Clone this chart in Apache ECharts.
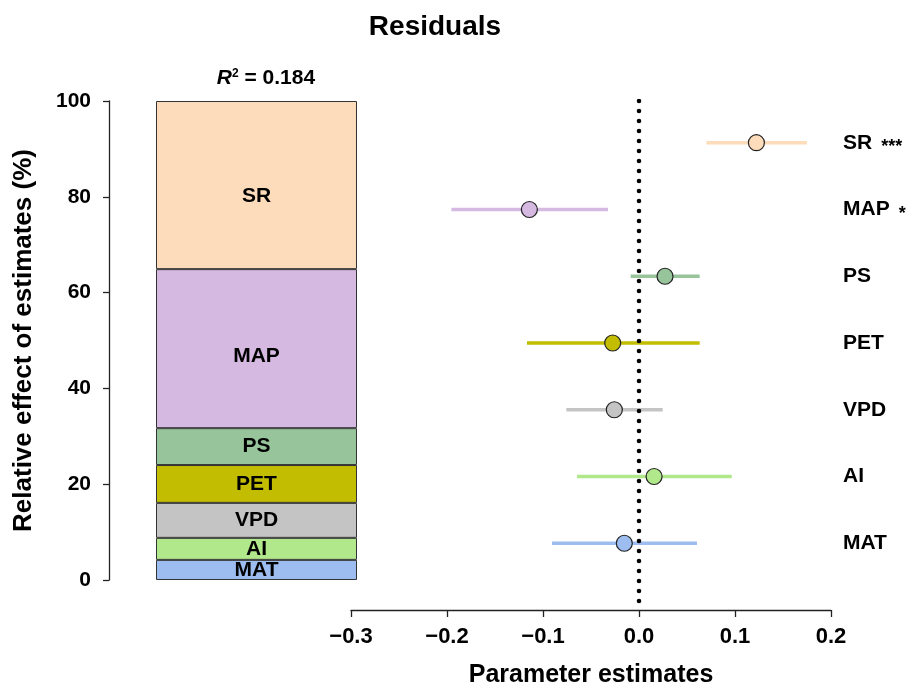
<!DOCTYPE html>
<html>
<head>
<meta charset="utf-8">
<script src="https://cdn.jsdelivr.net/npm/echarts@6/dist/echarts.min.js"></script>
<style>
html, body { margin: 0; padding: 0; background: #fff; }
#chart { width: 906px; height: 699px; }
</style>
</head>
<body>
<div id="chart"></div>
<script>
// variables, bottom to top
var categories = ['MAT', 'AI', 'VPD', 'PET', 'PS', 'MAP', 'SR'];
// relative effect of estimates (%)
var shares = [4.2, 4.6, 7.3, 7.9, 7.7, 33.2, 35.1];
// parameter estimates and their intervals
var estimates = [-0.0153, 0.0157, -0.0257, -0.0274, 0.0271, -0.1142, 0.1223];
var ciLow = [-0.0906, -0.0646, -0.0757, -0.1167, -0.0087, -0.1954, 0.0702];
var ciHigh = [0.0604, 0.0966, 0.0247, 0.0632, 0.0632, -0.0323, 0.1750];
var stars = ['', '', '', '', '', '*', '***'];
var colors = ['#9dbdf0', '#b1e88c', '#c4c4c4', '#c2bd00', '#97c49b', '#d5b9e1', '#fddcbb'];
var r2Text = '0.184';

var FONT = 'Liberation Sans, Arial, sans-serif';

var chart = echarts.init(document.getElementById('chart'));

// stacked bar, one series per variable
var barSeries = categories.map(function(name, i) {
    var off = 0;
    if (name == 'SR') off = 11;
    if (name == 'MAP') off = 8;
    return {
        name: name,
        type: 'bar',
        stack: 'total',
        xAxisIndex: 0,
        yAxisIndex: 0,
        barWidth: 201,
        data: [shares[i]],
        itemStyle: { color: colors[i], borderColor: '#333', borderWidth: 1 },
        label: {
            show: true,
            position: 'inside',
            offset: [0, off],
            formatter: name,
            color: '#000',
            fontFamily: FONT,
            fontWeight: 'bold',
            fontSize: 21
        }
    };
});

var ciData = categories.map(function(name, i) {
    return [ciLow[i], ciHigh[i], i + 1];
});

var pointData = categories.map(function(name, i) {
    return { value: [estimates[i], i + 1], itemStyle: { color: colors[i] } };
});

var option = {
    animation: false,
    backgroundColor: '#fff',
    title: [
        {
            text: 'Residuals',
            left: 430,
            top: 8,
            textAlign: 'center',
            textStyle: { fontFamily: FONT, fontWeight: 'bold', fontSize: 28, color: '#000' }
        },
        {
            text: '{i|R}{sup|2}{n| = ' + r2Text + '}',
            left: 261,
            top: 63,
            textAlign: 'center',
            textStyle: {
                rich: {
                    i: { fontFamily: FONT, fontWeight: 'bold', fontStyle: 'italic', fontSize: 21, color: '#000', verticalAlign: 'bottom' },
                    sup: { fontFamily: FONT, fontWeight: 'bold', fontSize: 12, color: '#000', verticalAlign: 'bottom', padding: [0, 0, 9, 0] },
                    n: { fontFamily: FONT, fontWeight: 'bold', fontSize: 21, color: '#000', verticalAlign: 'bottom' }
                }
            }
        }
    ],
    grid: [
        { left: 109, width: 295, top: 101, bottom: 119, outerBoundsMode: 'none' },
        { left: 351, right: 75, top: 101, bottom: 89, outerBoundsMode: 'none' }
    ],
    xAxis: [
        {
            gridIndex: 0,
            type: 'category',
            data: ['Residuals'],
            show: false
        },
        {
            gridIndex: 1,
            type: 'value',
            min: -0.3,
            max: 0.2,
            interval: 0.1,
            axisLine: { show: true, onZero: false, lineStyle: { color: '#222', width: 1.3 } },
            axisTick: { show: true, length: 7, lineStyle: { color: '#222', width: 1.3 } },
            splitLine: { show: false },
            axisLabel: {
                margin: 16,
                color: '#000',
                fontFamily: FONT,
                fontWeight: 'bold',
                fontSize: 22,
                formatter: function(v) {
                    return v.toFixed(1).replace('-', '\u2212');
                }
            },
            name: 'Parameter estimates',
            nameLocation: 'middle',
            nameGap: 53,
            nameTextStyle: { fontFamily: FONT, fontWeight: 'bold', fontSize: 25, color: '#000' }
        }
    ],
    yAxis: [
        {
            gridIndex: 0,
            type: 'value',
            min: 0,
            max: 100,
            interval: 20,
            axisLine: { show: true, lineStyle: { color: '#222', width: 1.3 } },
            axisTick: { show: true, length: 6, lineStyle: { color: '#222', width: 1.3 } },
            splitLine: { show: false },
            axisLabel: {
                margin: 18,
                color: '#000',
                fontFamily: FONT,
                fontWeight: 'bold',
                fontSize: 21
            },
            name: 'Relative effect of estimates (%)',
            nameLocation: 'middle',
            nameGap: 72,
            nameTextStyle: { fontFamily: FONT, fontWeight: 'bold', fontSize: 26, color: '#000' }
        },
        {
            gridIndex: 1,
            type: 'value',
            position: 'right',
            min: 0,
            max: 7.625,
            interval: 1,
            axisLine: { show: false },
            axisTick: { show: false },
            splitLine: { show: false },
            axisLabel: {
                margin: 12,
                align: 'left',
                formatter: function(v) {
                    var i = Math.round(v) - 1;
                    if (i < 0 || i >= categories.length) return '';
                    if (stars[i]) return '{n|' + categories[i] + '}{s|' + stars[i] + '}';
                    return '{n|' + categories[i] + '}';
                },
                rich: {
                    n: { fontFamily: FONT, fontWeight: 'bold', fontSize: 21, color: '#000' },
                    s: { fontFamily: FONT, fontWeight: 'bold', fontSize: 18, color: '#000', padding: [9, 0, 0, 9] }
                }
            }
        }
    ],
    series: barSeries.concat([
        {
            name: 'ci',
            type: 'custom',
            xAxisIndex: 1,
            yAxisIndex: 1,
            z: 2,
            data: ciData,
            encode: { x: [0, 1], y: 2 },
            renderItem: function(params, api) {
                var y = api.value(2);
                var p1 = api.coord([api.value(0), y]);
                var p2 = api.coord([api.value(1), y]);
                return {
                    type: 'line',
                    shape: { x1: p1[0], y1: p1[1], x2: p2[0], y2: p2[1] },
                    style: { stroke: colors[params.dataIndex], lineWidth: 3.5 }
                };
            }
        },
        {
            name: 'zero',
            type: 'line',
            xAxisIndex: 1,
            yAxisIndex: 1,
            z: 3,
            symbol: 'none',
            data: [[0, 7.625], [0, 0]],
            lineStyle: { color: '#000', width: 4.6, type: [0.01, 9.99], cap: 'round' }
        },
        {
            name: 'estimate',
            type: 'scatter',
            xAxisIndex: 1,
            yAxisIndex: 1,
            z: 4,
            symbolSize: 16,
            data: pointData,
            itemStyle: { borderColor: '#222', borderWidth: 1.2, opacity: 1 }
        }
    ])
};
chart.setOption(option);
</script>
</body>
</html>
